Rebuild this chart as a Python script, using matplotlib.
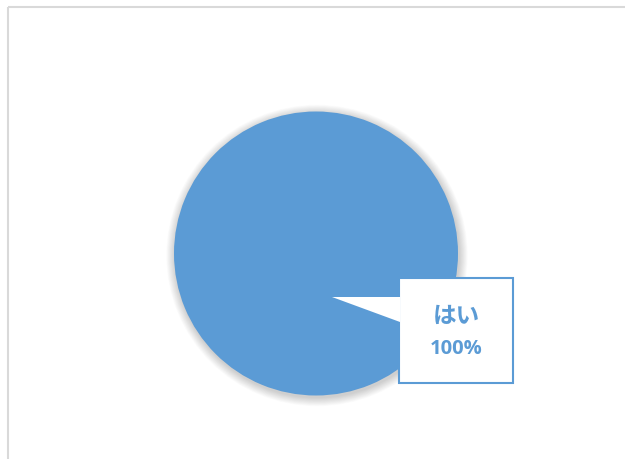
import matplotlib.pyplot as plt
from matplotlib.patches import Circle, Rectangle, Polygon

labels = ["はい"]
values = [100]
blue = "#5B9BD5"

fig = plt.figure(figsize=(6.25, 4.59), dpi=100)
ax = fig.add_axes([0, 0, 1, 1])

# outer chart border (light gray)
ax.add_patch(Rectangle((7.5, 6.5), 640, 470, fill=False, edgecolor="#D9D9D9", lw=1.5, zorder=0))

cx, cy, r = 316, 253.5, 142

# soft shadow
for i in range(16, 0, -1):
    ax.add_patch(Circle((cx + 1, cy + 2), r + i * 0.55, color="black", alpha=0.01, lw=0, zorder=1))

ax.pie(values, colors=[blue], center=(cx, cy), radius=r, startangle=90,
       wedgeprops=dict(linewidth=0, zorder=2), frame=True)

# callout
pct = values[0] / sum(values) * 100
ax.add_patch(Rectangle((398.5, 277.5), 114.5, 105, facecolor="white", edgecolor=blue, lw=1.5, zorder=3))
ax.add_patch(Polygon([(332, 297), (400, 297), (400, 322)], closed=True, facecolor="white", lw=0, zorder=4))
ax.text(456, 316, labels[0], ha="center", va="center", fontsize=17, fontweight="bold",
        color=blue, family=["Noto Sans CJK JP", "DejaVu Sans"], zorder=5)
ax.text(456, 349, f"{pct:.0f}%", ha="center", va="center", fontsize=14.5, fontweight="bold",
        color=blue, family=["Open Sans", "DejaVu Sans"], zorder=5)

ax.set_xlim(0, 625)
ax.set_ylim(459, 0)
ax.set_aspect("auto")
ax.axis("off")

fig.savefig("out.png", dpi=100)
